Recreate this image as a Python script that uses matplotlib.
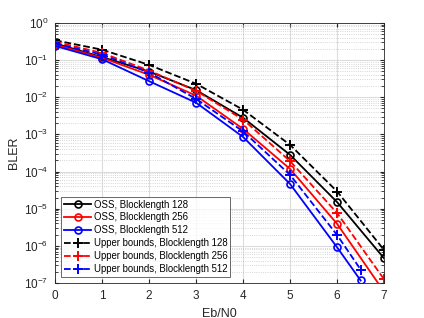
import numpy as np
import matplotlib.pyplot as plt
from matplotlib.ticker import FixedLocator, LogLocator, NullFormatter

# Eb/N0 points
ebn0 = [0, 1, 2, 3, 4, 5, 6, 7]
ebn0_512 = [0, 1, 2, 3, 4, 5, 6, 6.5]

# simulated BLER (OSS decoder)
oss_128 = [0.28, 0.12, 0.049, 0.0155, 0.0028, 2.8e-4, 1.5e-5, 4.6e-7]
oss_256 = [0.26, 0.115, 0.040, 0.011, 0.0014, 1.17e-4, 3.9e-6, 5.8e-8]
oss_512 = [0.24, 0.105, 0.027, 0.0071, 8.5e-4, 4.6e-5, 9.1e-7, 1.17e-7]

# upper bounds
ub_128 = [0.34, 0.19, 0.074, 0.023, 0.0046, 5.2e-4, 2.9e-5, 7.7e-7]
ub_256 = [0.31, 0.155, 0.052, 0.0148, 0.0025, 1.9e-4, 7.6e-6, 1.25e-7]
ub_512 = [0.28, 0.14, 0.046, 0.009, 0.0012, 8.1e-5, 1.95e-6, 2.3e-7]

labels = ['OSS, Blocklength 128', 'OSS, Blocklength 256', 'OSS, Blocklength 512',
          'Upper bounds, Blocklength 128', 'Upper bounds, Blocklength 256',
          'Upper bounds, Blocklength 512']

plt.rcParams['font.family'] = 'Liberation Sans'
fig = plt.figure(figsize=(4.24, 3.18), dpi=100)
ax = fig.add_axes([0.130, 0.110, 0.776, 0.818])

ax.semilogy(ebn0, oss_128, 'k-o', lw=1.3, ms=5, mfc='none', mew=1.2, label=labels[0])
ax.semilogy(ebn0, oss_256, 'r-o', lw=1.3, ms=5, mfc='none', mew=1.2, label=labels[1])
ax.semilogy(ebn0_512, oss_512, 'b-o', lw=1.3, ms=5, mfc='none', mew=1.2, label=labels[2])
ax.semilogy(ebn0, ub_128, 'k--+', lw=1.3, ms=7, mew=1.4, label=labels[3])
ax.semilogy(ebn0, ub_256, 'r--+', lw=1.3, ms=7, mew=1.4, label=labels[4])
ax.semilogy(ebn0_512, ub_512, 'b--+', lw=1.3, ms=7, mew=1.4, label=labels[5])

ax.set_xlim(0, 7)
ax.set_ylim(1e-7, 1)
ax.set_xticks(range(8))
ax.yaxis.set_major_locator(FixedLocator([10.0 ** k for k in range(-7, 1)]))
ax.yaxis.set_minor_locator(LogLocator(base=10, subs=np.arange(2, 10), numticks=20))
ax.yaxis.set_minor_formatter(NullFormatter())

ax.grid(True, which='major', color='#dcdcdc', lw=0.8)
ax.grid(True, which='minor', axis='y', color='#c8c8c8', lw=0.6, ls=':')
ax.set_axisbelow(True)
ax.tick_params(which='both', direction='in', top=True, right=True, labelsize=8.5,
               colors='#262626', pad=5)
ax.tick_params(which='minor', length=2)
ax.tick_params(which='major', length=3)
for s in ax.spines.values():
    s.set_color('#262626')
    s.set_linewidth(0.6)

ax.set_xlabel('Eb/N0', fontsize=9, color='#262626', labelpad=4)
ax.set_ylabel('BLER', fontsize=9, color='#262626', labelpad=3)

leg = ax.legend(loc='lower left', fontsize=6.9, frameon=True, fancybox=False,
                edgecolor='#262626', handlelength=2.8, borderaxespad=0.65,
                labelspacing=0.3, handletextpad=0.3, borderpad=0.3)
leg.get_frame().set_linewidth(0.6)

fig.savefig('out.png', dpi=100)
